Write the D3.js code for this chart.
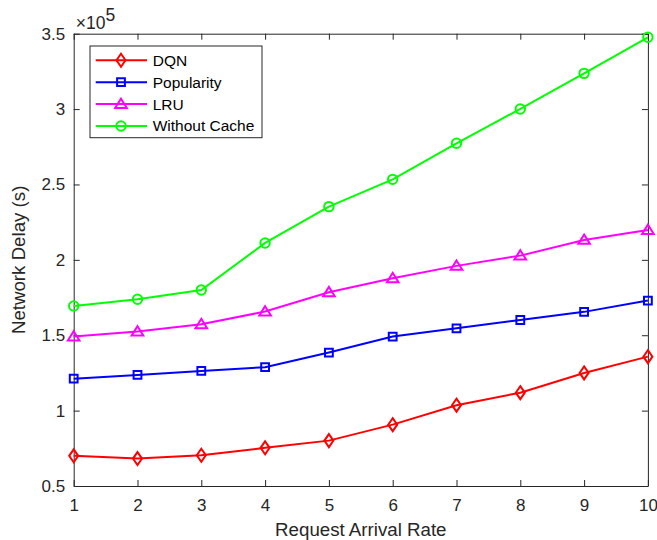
<!DOCTYPE html>
<html>
<head>
<meta charset="utf-8">
<script src="https://cdn.jsdelivr.net/npm/d3@7"></script>
<style>
  body { margin: 0; background: #fff; }
  svg { display: block; font-family: "Liberation Sans", Arial, Helvetica, sans-serif; }
</style>
</head>
<body>
<div id="chart"></div>
<script>
// data
const rates = [1, 2, 3, 4, 5, 6, 7, 8, 9, 10]
const dqn = [70000, 68200, 70400, 75300, 80100, 90700, 103600, 111900, 125000, 135800]
const popularity = [121200, 123700, 126300, 128800, 138500, 149100, 154600, 160100, 165500, 173000]
const lru = [149100, 152400, 157300, 165700, 178500, 187800, 196000, 202800, 213200, 219800]
const withoutCache = [169400, 173900, 180000, 211200, 235300, 253400, 277300, 300100, 323700, 347600]
const seriesNames = ["DQN", "Popularity", "LRU", "Without Cache"]
const yTicks = [50000, 100000, 150000, 200000, 250000, 300000, 350000]

function drawChart() {
  const dimensions = {
    width: 657,
    height: 540,
    margins: {top: 33.7, right: 9.1, bottom: 54, left: 73.7},
  }
  dimensions.boundedWidth = dimensions.width - dimensions.margins.left - dimensions.margins.right
  dimensions.boundedHeight = dimensions.height - dimensions.margins.top - dimensions.margins.bottom

  const axisColor = "#262626"

  const svg = d3.select("#chart")
    .append("svg")
    .attr("width", dimensions.width)
    .attr("height", dimensions.height)

  const bounds = svg.append("g")
    .attr("transform", `translate(${dimensions.margins.left}, ${dimensions.margins.top})`)

  // scales
  const xScale = d3.scaleLinear()
    .domain([1, 10])
    .range([0, dimensions.boundedWidth])

  const yScale = d3.scaleLinear()
    .domain([50000, 350000])
    .range([dimensions.boundedHeight, 0])

  const series = [
    {name: seriesNames[0], values: dqn, color: "#ff0000", marker: "diamond"},
    {name: seriesNames[1], values: popularity, color: "#0000ff", marker: "square"},
    {name: seriesNames[2], values: lru, color: "#ff00ff", marker: "triangle"},
    {name: seriesNames[3], values: withoutCache, color: "#00ff00", marker: "circle"},
  ]

  const markerPath = {
    diamond: "M0,-6.5L4.5,0L0,6.5L-4.5,0Z",
    square: "M-3.9,-3.9H3.9V3.9H-3.9Z",
    triangle: "M0,-5.4L5.8,3.9L-5.8,3.9Z",
    circle: "M4.7,0A4.7,4.7 0 1,1 -4.7,0A4.7,4.7 0 1,1 4.7,0Z",
  }

  // axes (ticks point inward, box on all sides)
  const fmt = d => d3.format("~g")(d / 1e5)

  bounds.append("g")
    .attr("transform", `translate(0, ${dimensions.boundedHeight})`)
    .call(d3.axisBottom(xScale).tickValues(rates).tickSize(-6).tickPadding(13).tickSizeOuter(0))
  bounds.append("g")
    .call(d3.axisTop(xScale).tickValues(rates).tickSize(-6).tickSizeOuter(0).tickFormat(""))
  bounds.append("g")
    .call(d3.axisLeft(yScale).tickValues(yTicks).tickSize(-6).tickPadding(8.5).tickSizeOuter(0).tickFormat(fmt))
  bounds.append("g")
    .attr("transform", `translate(${dimensions.boundedWidth}, 0)`)
    .call(d3.axisRight(yScale).tickValues(yTicks).tickSize(-6).tickSizeOuter(0).tickFormat(""))

  bounds.selectAll(".domain, .tick line")
    .attr("stroke", axisColor)
    .attr("stroke-width", 1)
  bounds.selectAll(".tick text")
    .attr("fill", axisColor)
    .style("font-size", "17px")
    .style("font-family", "inherit")

  // exponent label
  const expLabel = bounds.append("text")
    .attr("x", 2)
    .attr("y", -4.3)
    .attr("fill", axisColor)
    .style("font-size", "17.5px")
  expLabel.append("tspan").text("×10")
  expLabel.append("tspan")
    .attr("dy", -8.5)
    .text("5")

  // lines and markers
  const lineGenerator = d3.line()
    .x((d, i) => xScale(rates[i]))
    .y(d => yScale(d))

  const seriesGroup = bounds.selectAll("g.series")
    .data(series)
    .enter().append("g")
      .attr("class", "series")

  seriesGroup.append("path")
    .attr("d", d => lineGenerator(d.values))
    .attr("fill", "none")
    .attr("stroke", d => d.color)
    .attr("stroke-width", 2)

  seriesGroup.selectAll("path.marker")
    .data(d => d.values.map((v, i) => ({x: rates[i], y: v, s: d})))
    .enter().append("path")
      .attr("class", "marker")
      .attr("transform", d => `translate(${xScale(d.x)}, ${yScale(d.y)})`)
      .attr("d", d => markerPath[d.s.marker])
      .attr("fill", "none")
      .attr("stroke", d => d.s.color)
      .attr("stroke-width", 2)

  // axis labels
  svg.append("text")
    .attr("x", dimensions.margins.left + dimensions.boundedWidth / 2)
    .attr("y", 536)
    .attr("text-anchor", "middle")
    .attr("fill", axisColor)
    .style("font-size", "18.7px")
    .text("Request Arrival Rate")

  svg.append("text")
    .attr("transform", `translate(25, ${dimensions.margins.top + dimensions.boundedHeight / 2}) rotate(-90)`)
    .attr("text-anchor", "middle")
    .attr("fill", axisColor)
    .style("font-size", "18.7px")
    .text("Network Delay (s)")

  // legend
  const legend = svg.append("g")
    .attr("transform", "translate(90, 46)")
  legend.append("rect")
    .attr("width", 172)
    .attr("height", 91.7)
    .attr("fill", "#fff")
    .attr("stroke", axisColor)
    .attr("stroke-width", 1)

  const legendItem = legend.selectAll("g.item")
    .data(series)
    .enter().append("g")
      .attr("class", "item")
      .attr("transform", (d, i) => `translate(0, ${14.3 + i * 21.9})`)

  legendItem.append("line")
    .attr("x1", 5.7)
    .attr("x2", 57)
    .attr("stroke", d => d.color)
    .attr("stroke-width", 2)
  legendItem.append("path")
    .attr("transform", "translate(31, 0)")
    .attr("d", d => markerPath[d.marker])
    .attr("fill", "none")
    .attr("stroke", d => d.color)
    .attr("stroke-width", 2)
  legendItem.append("text")
    .attr("x", 62.7)
    .attr("dy", "0.35em")
    .attr("fill", "#000")
    .style("font-size", "15.5px")
    .text(d => d.name)
}

drawChart()
</script>
</body>
</html>
